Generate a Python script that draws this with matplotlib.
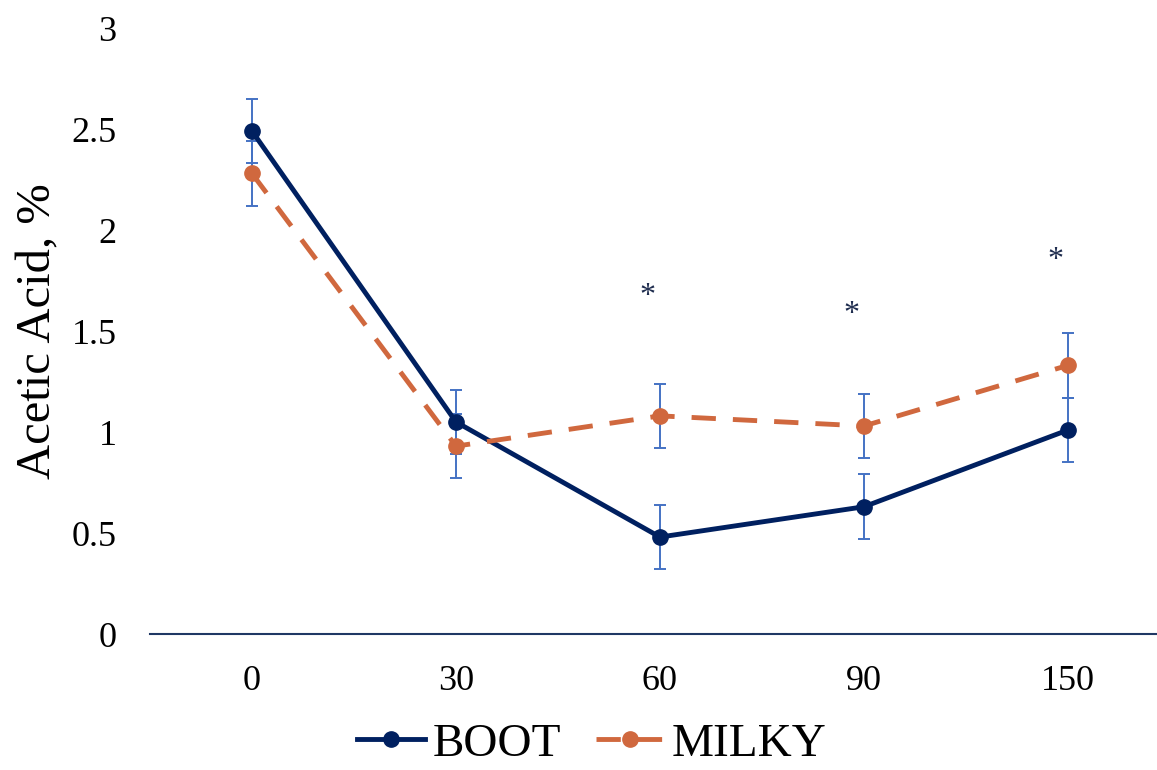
import numpy as np
import matplotlib
matplotlib.use("Agg")
from matplotlib import pyplot as plt

# data
days = ["0", "30", "60", "90", "150"]
boot = [2.49, 1.05, 0.48, 0.63, 1.01]
milky = [2.28, 0.93, 1.08, 1.03, 1.33]
boot_err = [0.16, 0.16, 0.16, 0.16, 0.16]
milky_err = [0.16, 0.16, 0.16, 0.16, 0.16]
star_idx = [2, 3, 4]
star_y = [1.67, 1.58, 1.85]

plt.rcParams['font.family'] = ['Liberation Serif', 'DejaVu Serif']

navy = '#002060'
orange = '#d0683e'
errc = '#4472c4'

fig = plt.figure(figsize=(11.57, 7.70), dpi=100)
ax = fig.add_axes([0.1296, 0.1766, 0.8816, 0.787])
x = np.arange(len(days))

ax.plot(x, boot, color=navy, lw=3.5, marker='o', ms=11, label='BOOT', zorder=3)
ax.plot(x, milky, color=orange, lw=3.5, marker='o', ms=11, dashes=(5, 3.5),
        label='MILKY', zorder=3)
ax.errorbar(x, boot, yerr=boot_err, fmt='none', ecolor=errc, elinewidth=1.4,
            capsize=4, capthick=1.4, zorder=2)
ax.errorbar(x, milky, yerr=milky_err, fmt='none', ecolor=errc, elinewidth=1.4,
            capsize=4, capthick=1.4, zorder=2)

# significance marks
for i, yv in zip(star_idx, star_y):
    ax.text(i - 0.06, yv, '*', ha='center', va='center', fontsize=23, color='#1f2d4f')

ax.set_xlim(-0.5, len(days) - 0.5)
ax.set_ylim(0, 3)
ax.set_xticks(x)
ax.set_xticklabels(days)
ax.set_yticks(np.arange(0, 3.01, 0.5))
ax.set_yticklabels(['0', '0.5', '1', '1.5', '2', '2.5', '3'])
ax.tick_params(axis='both', length=0, labelsize=26)
ax.tick_params(axis='y', pad=24)
ax.tick_params(axis='x', pad=22)
for s in ['top', 'right', 'left']:
    ax.spines[s].set_visible(False)
ax.spines['bottom'].set_color('#1f3864')
ax.spines['bottom'].set_linewidth(1.5)
ax.set_ylabel('Acetic Acid, %', fontsize=35, labelpad=8)

ax.legend(loc='center', bbox_to_anchor=(0.433, -0.182), ncol=2, frameon=False,
          fontsize=34, handlelength=1.45, handletextpad=0.15, columnspacing=0.75,
          borderaxespad=0, borderpad=0)

fig.savefig('out.png', dpi=100)
